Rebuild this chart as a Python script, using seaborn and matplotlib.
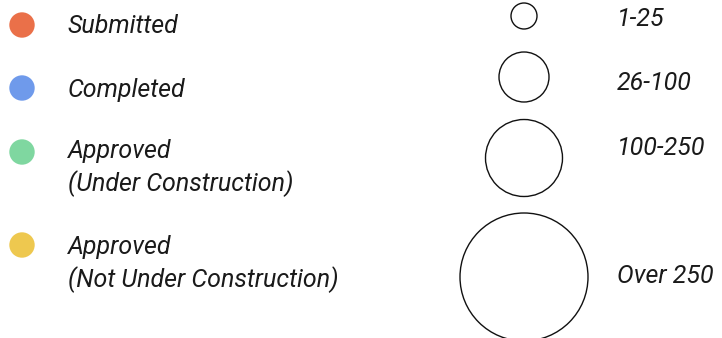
import pandas as pd
import seaborn as sns
import matplotlib.pyplot as plt

# legend data
status = ['Submitted', 'Completed', 'Approved\n(Under Construction)', 'Approved\n(Not Under Construction)']
status_colors = ['#ea7049', '#6f9aeb', '#7fd7a0', '#eec84f']
size_labels = ['1-25', '26-100', '100-250', 'Over 250']

# layout (pixels)
status_y = [25, 88, 152, 245]
status_text_y = [26, 90, 168, 264]
size_y = [16, 77, 158, 277]
size_r = [13, 25, 38.5, 64]
size_text_y = [19, 83, 148, 276]

sns.set_theme(style='white')
plt.rcParams['font.family'] = ['Roboto', 'DejaVu Sans']

fig = plt.figure(figsize=(7.22, 3.38), dpi=100)
ax = fig.add_axes([0, 0, 1, 1])

px2pt = 72 / 100

df_status = pd.DataFrame({'x': 22, 'y': status_y, 'status': status})
sns.scatterplot(data=df_status, x='x', y='y', hue='status', palette=status_colors,
                s=(2 * 12.7 * px2pt) ** 2, linewidth=0, legend=False, ax=ax)

df_size = pd.DataFrame({'x': 524, 'y': size_y, 'size': size_labels})
sns.scatterplot(data=df_size, x='x', y='y', size='size',
                sizes={l: (2 * r * px2pt) ** 2 for l, r in zip(size_labels, size_r)},
                facecolor='none', edgecolor='#111111', linewidth=1.0, legend=False, ax=ax)
ax.set_xlim(0, 722)
ax.set_ylim(338, 0)
ax.axis('off')

for lab, y in zip(status, status_text_y):
    ax.text(68, y, lab, fontsize=18, style='italic', color='#1a1a1a',
            va='center', ha='left', linespacing=1.3)
for lab, y in zip(size_labels, size_text_y):
    ax.text(617, y, lab, fontsize=18, style='italic', color='#1a1a1a',
            va='center', ha='left')

fig.savefig('out.png', dpi=100)
